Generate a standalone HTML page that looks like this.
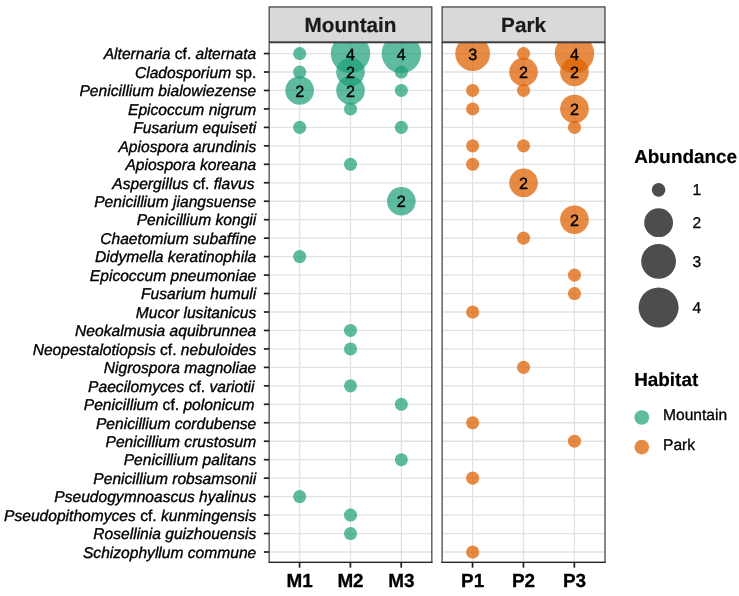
<!DOCTYPE html>
<html lang="en">
<head>
<meta charset="utf-8">
<title>Abundance by habitat</title>
<style>
html,body{margin:0;padding:0;background:#fff;}
body{width:739px;height:596px;overflow:hidden;}
svg{display:block;}
svg text{font-family:"Liberation Sans",Arial,Helvetica,sans-serif;text-rendering:geometricPrecision;}
.yl{font-size:15.6px;fill:#000;text-anchor:end;stroke:#000;stroke-width:0.35px;}
.it{font-style:italic;}
.xl{font-size:18.9px;font-weight:bold;fill:#000;text-anchor:middle;stroke:#000;stroke-width:0.3px;}
.st{font-size:20.7px;font-weight:bold;fill:#1a1a1a;text-anchor:middle;stroke:#1a1a1a;stroke-width:0.2px;}
.lt{font-size:18.9px;font-weight:bold;fill:#000;stroke:#000;stroke-width:0.2px;}
.ll{font-size:15.6px;fill:#000;stroke:#000;stroke-width:0.3px;}
.num{font-size:16.2px;fill:#000;text-anchor:middle;stroke:#000;stroke-width:0.4px;}
</style>
</head>
<body>
<svg width="739" height="596" viewBox="0 0 739 596">
<rect x="0" y="0" width="739" height="596" fill="#ffffff"/>
<defs>
<clipPath id="c1"><rect x="269.15" y="42.70" width="162.70" height="519.70"/></clipPath>
<clipPath id="c2"><rect x="442.10" y="42.70" width="162.90" height="519.70"/></clipPath>
</defs>
<g>
<g stroke="#e2e2e2" stroke-width="1.30" fill="none">
<line x1="269.15" y1="53.55" x2="431.85" y2="53.55"/>
<line x1="269.15" y1="72.01" x2="431.85" y2="72.01"/>
<line x1="269.15" y1="90.47" x2="431.85" y2="90.47"/>
<line x1="269.15" y1="108.93" x2="431.85" y2="108.93"/>
<line x1="269.15" y1="127.39" x2="431.85" y2="127.39"/>
<line x1="269.15" y1="145.85" x2="431.85" y2="145.85"/>
<line x1="269.15" y1="164.32" x2="431.85" y2="164.32"/>
<line x1="269.15" y1="182.78" x2="431.85" y2="182.78"/>
<line x1="269.15" y1="201.24" x2="431.85" y2="201.24"/>
<line x1="269.15" y1="219.70" x2="431.85" y2="219.70"/>
<line x1="269.15" y1="238.16" x2="431.85" y2="238.16"/>
<line x1="269.15" y1="256.62" x2="431.85" y2="256.62"/>
<line x1="269.15" y1="275.08" x2="431.85" y2="275.08"/>
<line x1="269.15" y1="293.54" x2="431.85" y2="293.54"/>
<line x1="269.15" y1="312.00" x2="431.85" y2="312.00"/>
<line x1="269.15" y1="330.46" x2="431.85" y2="330.46"/>
<line x1="269.15" y1="348.93" x2="431.85" y2="348.93"/>
<line x1="269.15" y1="367.39" x2="431.85" y2="367.39"/>
<line x1="269.15" y1="385.85" x2="431.85" y2="385.85"/>
<line x1="269.15" y1="404.31" x2="431.85" y2="404.31"/>
<line x1="269.15" y1="422.77" x2="431.85" y2="422.77"/>
<line x1="269.15" y1="441.23" x2="431.85" y2="441.23"/>
<line x1="269.15" y1="459.69" x2="431.85" y2="459.69"/>
<line x1="269.15" y1="478.15" x2="431.85" y2="478.15"/>
<line x1="269.15" y1="496.61" x2="431.85" y2="496.61"/>
<line x1="269.15" y1="515.07" x2="431.85" y2="515.07"/>
<line x1="269.15" y1="533.54" x2="431.85" y2="533.54"/>
<line x1="269.15" y1="552.00" x2="431.85" y2="552.00"/>
<line x1="299.66" y1="42.70" x2="299.66" y2="562.40"/>
<line x1="350.50" y1="42.70" x2="350.50" y2="562.40"/>
<line x1="401.34" y1="42.70" x2="401.34" y2="562.40"/>
</g>
<g clip-path="url(#c1)" fill="#1b9e77" fill-opacity="0.70">
<circle cx="299.66" cy="53.55" r="6.55"/>
<circle cx="350.50" cy="53.55" r="19.70"/>
<circle cx="401.34" cy="53.55" r="19.70"/>
<circle cx="299.66" cy="72.01" r="6.55"/>
<circle cx="350.50" cy="72.01" r="14.30"/>
<circle cx="401.34" cy="72.01" r="6.55"/>
<circle cx="299.66" cy="90.47" r="14.30"/>
<circle cx="350.50" cy="90.47" r="14.30"/>
<circle cx="401.34" cy="90.47" r="6.55"/>
<circle cx="350.50" cy="108.93" r="6.55"/>
<circle cx="299.66" cy="127.39" r="6.55"/>
<circle cx="401.34" cy="127.39" r="6.55"/>
<circle cx="350.50" cy="164.32" r="6.55"/>
<circle cx="401.34" cy="201.24" r="14.30"/>
<circle cx="299.66" cy="256.62" r="6.55"/>
<circle cx="350.50" cy="330.46" r="6.55"/>
<circle cx="350.50" cy="348.93" r="6.55"/>
<circle cx="350.50" cy="385.85" r="6.55"/>
<circle cx="401.34" cy="404.31" r="6.55"/>
<circle cx="401.34" cy="459.69" r="6.55"/>
<circle cx="299.66" cy="496.61" r="6.55"/>
<circle cx="350.50" cy="515.07" r="6.55"/>
<circle cx="350.50" cy="533.54" r="6.55"/>
</g>
<g clip-path="url(#c1)">
<text class="num" x="350.50" y="59.75">4</text>
<text class="num" x="401.34" y="59.75">4</text>
<text class="num" x="350.50" y="78.21">2</text>
<text class="num" x="299.66" y="96.67">2</text>
<text class="num" x="350.50" y="96.67">2</text>
<text class="num" x="401.34" y="207.44">2</text>
</g>
<rect x="269.15" y="42.70" width="162.70" height="519.70" fill="none" stroke="#333333" stroke-width="1.15"/>
<rect x="269.15" y="6.95" width="162.70" height="34.95" fill="#d9d9d9" stroke="#333333" stroke-width="1.15"/>
<text class="st" x="350.50" y="31.80">Mountain</text>
<line x1="268.57" y1="562.40" x2="432.43" y2="562.40" stroke="#262626" stroke-width="1.35"/>
<g stroke="#1f1f1f" stroke-width="1.70">
<line x1="299.56" y1="562.40" x2="299.56" y2="567.70"/>
<line x1="350.40" y1="562.40" x2="350.40" y2="567.70"/>
<line x1="401.24" y1="562.40" x2="401.24" y2="567.70"/>
</g>
<text class="xl" x="299.66" y="587.30">M1</text>
<text class="xl" x="350.50" y="587.30">M2</text>
<text class="xl" x="401.34" y="587.30">M3</text>
</g>
<g>
<g stroke="#e2e2e2" stroke-width="1.30" fill="none">
<line x1="442.10" y1="53.55" x2="605.00" y2="53.55"/>
<line x1="442.10" y1="72.01" x2="605.00" y2="72.01"/>
<line x1="442.10" y1="90.47" x2="605.00" y2="90.47"/>
<line x1="442.10" y1="108.93" x2="605.00" y2="108.93"/>
<line x1="442.10" y1="127.39" x2="605.00" y2="127.39"/>
<line x1="442.10" y1="145.85" x2="605.00" y2="145.85"/>
<line x1="442.10" y1="164.32" x2="605.00" y2="164.32"/>
<line x1="442.10" y1="182.78" x2="605.00" y2="182.78"/>
<line x1="442.10" y1="201.24" x2="605.00" y2="201.24"/>
<line x1="442.10" y1="219.70" x2="605.00" y2="219.70"/>
<line x1="442.10" y1="238.16" x2="605.00" y2="238.16"/>
<line x1="442.10" y1="256.62" x2="605.00" y2="256.62"/>
<line x1="442.10" y1="275.08" x2="605.00" y2="275.08"/>
<line x1="442.10" y1="293.54" x2="605.00" y2="293.54"/>
<line x1="442.10" y1="312.00" x2="605.00" y2="312.00"/>
<line x1="442.10" y1="330.46" x2="605.00" y2="330.46"/>
<line x1="442.10" y1="348.93" x2="605.00" y2="348.93"/>
<line x1="442.10" y1="367.39" x2="605.00" y2="367.39"/>
<line x1="442.10" y1="385.85" x2="605.00" y2="385.85"/>
<line x1="442.10" y1="404.31" x2="605.00" y2="404.31"/>
<line x1="442.10" y1="422.77" x2="605.00" y2="422.77"/>
<line x1="442.10" y1="441.23" x2="605.00" y2="441.23"/>
<line x1="442.10" y1="459.69" x2="605.00" y2="459.69"/>
<line x1="442.10" y1="478.15" x2="605.00" y2="478.15"/>
<line x1="442.10" y1="496.61" x2="605.00" y2="496.61"/>
<line x1="442.10" y1="515.07" x2="605.00" y2="515.07"/>
<line x1="442.10" y1="533.54" x2="605.00" y2="533.54"/>
<line x1="442.10" y1="552.00" x2="605.00" y2="552.00"/>
<line x1="472.64" y1="42.70" x2="472.64" y2="562.40"/>
<line x1="523.55" y1="42.70" x2="523.55" y2="562.40"/>
<line x1="574.46" y1="42.70" x2="574.46" y2="562.40"/>
</g>
<g clip-path="url(#c2)" fill="#de6303" fill-opacity="0.74">
<circle cx="472.64" cy="53.55" r="17.40"/>
<circle cx="523.55" cy="53.55" r="6.55"/>
<circle cx="574.46" cy="53.55" r="19.70"/>
<circle cx="523.55" cy="72.01" r="14.30"/>
<circle cx="574.46" cy="72.01" r="14.30"/>
<circle cx="472.64" cy="90.47" r="6.55"/>
<circle cx="523.55" cy="90.47" r="6.55"/>
<circle cx="472.64" cy="108.93" r="6.55"/>
<circle cx="574.46" cy="108.93" r="14.30"/>
<circle cx="574.46" cy="127.39" r="6.55"/>
<circle cx="472.64" cy="145.85" r="6.55"/>
<circle cx="523.55" cy="145.85" r="6.55"/>
<circle cx="472.64" cy="164.32" r="6.55"/>
<circle cx="523.55" cy="182.78" r="14.30"/>
<circle cx="574.46" cy="219.70" r="14.30"/>
<circle cx="523.55" cy="238.16" r="6.55"/>
<circle cx="574.46" cy="275.08" r="6.55"/>
<circle cx="574.46" cy="293.54" r="6.55"/>
<circle cx="472.64" cy="312.00" r="6.55"/>
<circle cx="523.55" cy="367.39" r="6.55"/>
<circle cx="472.64" cy="422.77" r="6.55"/>
<circle cx="574.46" cy="441.23" r="6.55"/>
<circle cx="472.64" cy="478.15" r="6.55"/>
<circle cx="472.64" cy="552.00" r="6.55"/>
</g>
<g clip-path="url(#c2)">
<text class="num" x="472.64" y="59.75">3</text>
<text class="num" x="574.46" y="59.75">4</text>
<text class="num" x="523.55" y="78.21">2</text>
<text class="num" x="574.46" y="78.21">2</text>
<text class="num" x="574.46" y="115.13">2</text>
<text class="num" x="523.55" y="188.98">2</text>
<text class="num" x="574.46" y="225.90">2</text>
</g>
<rect x="442.10" y="42.70" width="162.90" height="519.70" fill="none" stroke="#333333" stroke-width="1.15"/>
<rect x="442.10" y="6.95" width="162.90" height="34.95" fill="#d9d9d9" stroke="#333333" stroke-width="1.15"/>
<text class="st" x="523.55" y="31.80">Park</text>
<line x1="441.53" y1="562.40" x2="605.58" y2="562.40" stroke="#262626" stroke-width="1.35"/>
<g stroke="#1f1f1f" stroke-width="1.70">
<line x1="472.54" y1="562.40" x2="472.54" y2="567.70"/>
<line x1="523.45" y1="562.40" x2="523.45" y2="567.70"/>
<line x1="574.36" y1="562.40" x2="574.36" y2="567.70"/>
</g>
<text class="xl" x="472.64" y="587.30">P1</text>
<text class="xl" x="523.55" y="587.30">P2</text>
<text class="xl" x="574.46" y="587.30">P3</text>
</g>
<g stroke="#1f1f1f" stroke-width="1.70">
<line x1="263.85" y1="53.55" x2="269.15" y2="53.55"/>
<line x1="263.85" y1="72.01" x2="269.15" y2="72.01"/>
<line x1="263.85" y1="90.47" x2="269.15" y2="90.47"/>
<line x1="263.85" y1="108.93" x2="269.15" y2="108.93"/>
<line x1="263.85" y1="127.39" x2="269.15" y2="127.39"/>
<line x1="263.85" y1="145.85" x2="269.15" y2="145.85"/>
<line x1="263.85" y1="164.32" x2="269.15" y2="164.32"/>
<line x1="263.85" y1="182.78" x2="269.15" y2="182.78"/>
<line x1="263.85" y1="201.24" x2="269.15" y2="201.24"/>
<line x1="263.85" y1="219.70" x2="269.15" y2="219.70"/>
<line x1="263.85" y1="238.16" x2="269.15" y2="238.16"/>
<line x1="263.85" y1="256.62" x2="269.15" y2="256.62"/>
<line x1="263.85" y1="275.08" x2="269.15" y2="275.08"/>
<line x1="263.85" y1="293.54" x2="269.15" y2="293.54"/>
<line x1="263.85" y1="312.00" x2="269.15" y2="312.00"/>
<line x1="263.85" y1="330.46" x2="269.15" y2="330.46"/>
<line x1="263.85" y1="348.93" x2="269.15" y2="348.93"/>
<line x1="263.85" y1="367.39" x2="269.15" y2="367.39"/>
<line x1="263.85" y1="385.85" x2="269.15" y2="385.85"/>
<line x1="263.85" y1="404.31" x2="269.15" y2="404.31"/>
<line x1="263.85" y1="422.77" x2="269.15" y2="422.77"/>
<line x1="263.85" y1="441.23" x2="269.15" y2="441.23"/>
<line x1="263.85" y1="459.69" x2="269.15" y2="459.69"/>
<line x1="263.85" y1="478.15" x2="269.15" y2="478.15"/>
<line x1="263.85" y1="496.61" x2="269.15" y2="496.61"/>
<line x1="263.85" y1="515.07" x2="269.15" y2="515.07"/>
<line x1="263.85" y1="533.54" x2="269.15" y2="533.54"/>
<line x1="263.85" y1="552.00" x2="269.15" y2="552.00"/>
</g>
<g>
<text class="yl" x="256.30" y="59.30"><tspan class="it">Alternaria</tspan> cf. <tspan class="it">alternata</tspan></text>
<text class="yl" x="256.30" y="77.76"><tspan class="it">Cladosporium</tspan> sp.</text>
<text class="yl" x="256.30" y="96.22"><tspan class="it">Penicillium bialowiezense</tspan></text>
<text class="yl" x="256.30" y="114.68"><tspan class="it">Epicoccum nigrum</tspan></text>
<text class="yl" x="256.30" y="133.14"><tspan class="it">Fusarium equiseti</tspan></text>
<text class="yl" x="256.30" y="151.60"><tspan class="it">Apiospora arundinis</tspan></text>
<text class="yl" x="256.30" y="170.07"><tspan class="it">Apiospora koreana</tspan></text>
<text class="yl" x="254.50" y="188.53"><tspan class="it">Aspergillus</tspan> cf. <tspan class="it">flavus</tspan></text>
<text class="yl" x="256.30" y="206.99"><tspan class="it">Penicillium jiangsuense</tspan></text>
<text class="yl" x="256.30" y="225.45"><tspan class="it">Penicillium kongii</tspan></text>
<text class="yl" x="256.30" y="243.91"><tspan class="it">Chaetomium subaffine</tspan></text>
<text class="yl" x="256.30" y="262.37"><tspan class="it">Didymella keratinophila</tspan></text>
<text class="yl" x="256.30" y="280.83"><tspan class="it">Epicoccum pneumoniae</tspan></text>
<text class="yl" x="256.30" y="299.29"><tspan class="it">Fusarium humuli</tspan></text>
<text class="yl" x="256.30" y="317.75"><tspan class="it">Mucor lusitanicus</tspan></text>
<text class="yl" x="256.30" y="336.21"><tspan class="it">Neokalmusia aquibrunnea</tspan></text>
<text class="yl" x="256.30" y="354.68"><tspan class="it">Neopestalotiopsis</tspan> cf. <tspan class="it">nebuloides</tspan></text>
<text class="yl" x="256.30" y="373.14"><tspan class="it">Nigrospora magnoliae</tspan></text>
<text class="yl" x="254.50" y="391.60"><tspan class="it">Paecilomyces</tspan> cf. <tspan class="it">variotii</tspan></text>
<text class="yl" x="254.50" y="410.06"><tspan class="it">Penicillium</tspan> cf. <tspan class="it">polonicum</tspan></text>
<text class="yl" x="256.30" y="428.52"><tspan class="it">Penicillium cordubense</tspan></text>
<text class="yl" x="256.30" y="446.98"><tspan class="it">Penicillium crustosum</tspan></text>
<text class="yl" x="256.30" y="465.44"><tspan class="it">Penicillium palitans</tspan></text>
<text class="yl" x="256.30" y="483.90"><tspan class="it">Penicillium robsamsonii</tspan></text>
<text class="yl" x="256.30" y="502.36"><tspan class="it">Pseudogymnoascus hyalinus</tspan></text>
<text class="yl" x="256.30" y="520.82"><tspan class="it">Pseudopithomyces</tspan> cf. <tspan class="it">kunmingensis</tspan></text>
<text class="yl" x="256.30" y="539.29"><tspan class="it">Rosellinia guizhouensis</tspan></text>
<text class="yl" x="256.30" y="557.75"><tspan class="it">Schizophyllum commune</tspan></text>
</g>
<g>
<text class="lt" x="634.2" y="162.8">Abundance</text>
<circle cx="658.6" cy="189.85" r="6.80" fill="#4d4d4d"/>
<text class="ll" x="692.5" y="195.25">1</text>
<circle cx="658.6" cy="222.70" r="14.40" fill="#4d4d4d"/>
<text class="ll" x="692.5" y="227.90">2</text>
<circle cx="658.6" cy="261.40" r="17.40" fill="#4d4d4d"/>
<text class="ll" x="692.5" y="267.00">3</text>
<circle cx="658.6" cy="307.40" r="20.00" fill="#4d4d4d"/>
<text class="ll" x="692.5" y="313.00">4</text>
</g>
<g>
<text class="lt" x="634.2" y="385.8">Habitat</text>
<circle cx="641.8" cy="417.5" r="7.35" fill="#1b9e77" fill-opacity="0.70"/>
<text class="ll" x="663.0" y="419.9">Mountain</text>
<circle cx="641.8" cy="447.1" r="7.35" fill="#de6303" fill-opacity="0.74"/>
<text class="ll" x="663.0" y="449.9">Park</text>
</g>
</svg>
</body>
</html>
